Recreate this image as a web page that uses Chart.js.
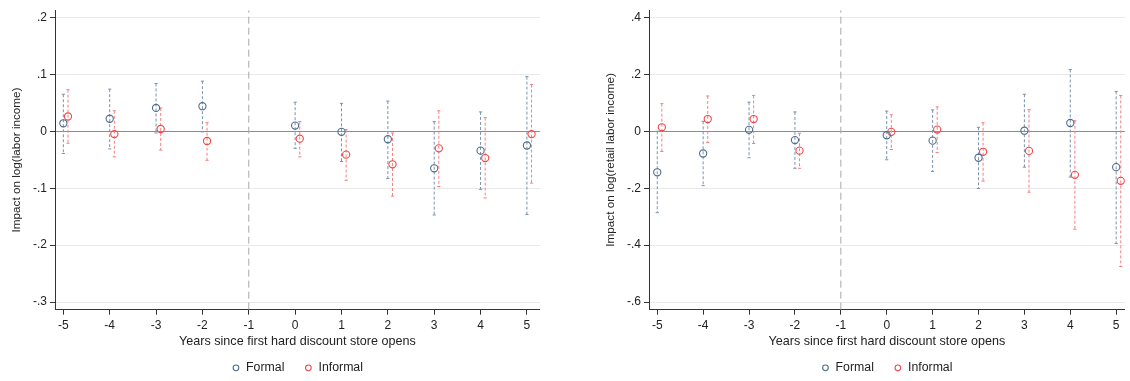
<!DOCTYPE html>
<html>
<head>
<meta charset="utf-8">
<script src="https://cdn.jsdelivr.net/npm/chart.js@4.4.1/dist/chart.umd.min.js"></script>
<style>
  body { margin: 0; background: #fff; }
  #wrap { position: relative; width: 1130px; height: 381px; background: #fff; }
  .panel { position: absolute; top: 0; height: 381px; }
</style>
</head>
<body>
<div id="wrap">
  <div class="panel" style="left:0;width:545px"><canvas id="labor"></canvas></div>
  <div class="panel" style="left:594px;width:536px"><canvas id="retail"></canvas></div>
</div>
<script>
// years relative to the first hard discount store opening
var years = [-5, -4, -3, -2, 0, 1, 2, 3, 4, 5];
var xTicks = [-5, -4, -3, -2, -1, 0, 1, 2, 3, 4, 5];

// impact on log(labor income)
var laborFormal     = [0.014, 0.022, 0.041, 0.044, 0.010, -0.001, -0.014, -0.065, -0.034, -0.025];
var laborFormalLo   = [-0.039, -0.031, -0.003, -0.001, -0.030, -0.053, -0.083, -0.147, -0.102, -0.146];
var laborFormalHi   = [0.065, 0.074, 0.084, 0.088, 0.051, 0.049, 0.053, 0.017, 0.034, 0.096];
var laborInformal   = [0.026, -0.005, 0.004, -0.017, -0.013, -0.041, -0.058, -0.030, -0.047, -0.005];
var laborInformalLo = [-0.021, -0.045, -0.033, -0.051, -0.045, -0.086, -0.114, -0.097, -0.117, -0.091];
var laborInformalHi = [0.073, 0.036, 0.041, 0.015, 0.017, 0.003, -0.003, 0.036, 0.024, 0.082];
var laborTicks      = [0.2, 0.1, 0, -0.1, -0.2, -0.3];
var laborTickLabels = ['.2', '.1', '0', '-.1', '-.2', '-.3'];

// impact on log(retail labor income)
var retailFormal     = [-0.144, -0.078, 0.005, -0.031, -0.014, -0.033, -0.093, 0.002, 0.029, -0.126];
var retailFormalLo   = [-0.286, -0.191, -0.093, -0.130, -0.100, -0.141, -0.201, -0.126, -0.161, -0.394];
var retailFormalHi   = [0.000, 0.035, 0.102, 0.068, 0.071, 0.075, 0.014, 0.130, 0.217, 0.140];
var retailInformal   = [0.014, 0.043, 0.043, -0.068, -0.002, 0.006, -0.072, -0.069, -0.153, -0.174];
var retailInformalLo = [-0.071, -0.040, -0.043, -0.130, -0.064, -0.075, -0.175, -0.214, -0.344, -0.475];
var retailInformalHi = [0.097, 0.124, 0.126, -0.007, 0.058, 0.086, 0.030, 0.076, 0.037, 0.126];
var retailTicks      = [0.4, 0.2, 0, -0.2, -0.4, -0.6];
var retailTickLabels = ['.4', '.2', '0', '-.2', '-.4', '-.6'];

var eventYear = -1;
var informalShift = 0.1;

var FONT = 'Liberation Sans, Arial, Helvetica, sans-serif';
var BLUE = '#4f6c8f', BLUE_CI = '#7d92ab';
var RED = '#f04848', RED_CI = '#f58080';

function pts(xs, ys, shift) {
  return xs.map(function(x, i) { return {x: x + shift, y: ys[i]}; });
}

// each interval is a two-point segment, broken by a null point
function ciPts(xs, lo, hi, shift) {
  var out = [];
  xs.forEach(function(x, i) {
    out.push({x: x + shift, y: hi[i]}, {x: x + shift, y: lo[i]}, {x: x + shift, y: null});
  });
  return out;
}

function ciSet(data, color) {
  return {
    type: 'line', label: 'ci', data: data, order: 2,
    borderColor: color, borderWidth: 1, borderDash: [3, 2], spanGaps: false,
    pointStyle: 'line', pointRadius: 1.6, pointBorderColor: color, pointBorderWidth: 1,
    pointHoverRadius: 0
  };
}

// centre the legend under the plot area, like the original graph
var legendUnderPlot = {
  id: 'legendUnderPlot',
  afterLayout: function(chart) {
    var lg = chart.legend, area = chart.chartArea;
    if (!lg) return;
    lg.left = area.left;
    lg.right = area.right;
    lg.width = area.right - area.left;
  }
};

function makeChart(id, p) {
  var ctx = document.getElementById(id);
  return new Chart(ctx, {
    type: 'scatter',
    plugins: [legendUnderPlot],
    data: {
      datasets: [
        {
          type: 'scatter', label: 'Formal', data: pts(years, p.formal, 0), order: 1,
          pointStyle: 'circle', pointRadius: 3.6, borderWidth: 1.1,
          borderColor: BLUE, backgroundColor: 'rgba(0,0,0,0)'
        },
        {
          type: 'scatter', label: 'Informal', data: pts(years, p.informal, informalShift), order: 1,
          pointStyle: 'circle', pointRadius: 3.6, borderWidth: 1.1,
          borderColor: RED, backgroundColor: 'rgba(0,0,0,0)'
        },
        ciSet(ciPts(years, p.formalLo, p.formalHi, 0), BLUE_CI),
        ciSet(ciPts(years, p.informalLo, p.informalHi, informalShift), RED_CI),
        {
          type: 'line', label: 'event', order: 3,
          data: [{x: eventYear, y: p.yMin}, {x: eventYear, y: p.yMax}],
          borderColor: '#a8a8a8', borderWidth: 1, borderDash: [7, 4], pointRadius: 0
        }
      ]
    },
    options: {
      responsive: true,
      maintainAspectRatio: false,
      animation: false,
      devicePixelRatio: 1,
      layout: { padding: { top: 5, right: p.padRight, left: 0, bottom: -3 } },
      plugins: {
        tooltip: { enabled: false },
        legend: {
          position: 'bottom',
          labels: {
            usePointStyle: true, boxWidth: 8, boxHeight: 4, padding: 20,
            color: '#222', font: { family: FONT, size: 12.3 },
            filter: function(item) { return item.text === 'Formal' || item.text === 'Informal'; }
          }
        }
      },
      scales: {
        x: {
          type: 'linear', min: p.xMin, max: p.xMax,
          afterBuildTicks: function(s) { s.ticks = xTicks.map(function(v) { return {value: v}; }); },
          afterFit: function(s) { s.height = 32; },
          ticks: { autoSkip: false, maxRotation: 0, padding: 4, color: '#222',
                   font: { family: FONT, size: 12 }, callback: function(v) { return String(v); } },
          grid: { color: 'rgba(0,0,0,0)', tickColor: '#333', tickLength: 5 },
          border: { color: '#333', width: 1 },
          title: { display: true, text: 'Years since first hard discount store opens', color: '#222',
                   font: { family: FONT, size: 12.6 }, padding: { top: 0, bottom: -7 } }
        },
        y: {
          type: 'linear', min: p.yMin, max: p.yMax,
          afterBuildTicks: function(s) { s.ticks = p.ticks.map(function(v) { return {value: v}; }); },
          afterFit: function(s) { s.width = 55; },
          ticks: { padding: 3, color: '#222', font: { family: FONT, size: 12 },
                   callback: function(v) { var i = p.ticks.indexOf(v); return i >= 0 ? p.tickLabels[i] : ''; } },
          grid: {
            color: function(c) { return c.tick && c.tick.value === 0 ? '#8c8c8c' : '#e9e9e9'; },
            tickColor: '#333', tickLength: 5
          },
          border: { color: '#333', width: 1 },
          title: { display: true, text: p.yTitle, color: '#222',
                   font: { family: FONT, size: 11.7 }, padding: { top: 10, bottom: 0 } }
        }
      }
    }
  });
}

makeChart('labor', {
  formal: laborFormal, formalLo: laborFormalLo, formalHi: laborFormalHi,
  informal: laborInformal, informalLo: laborInformalLo, informalHi: laborInformalHi,
  ticks: laborTicks, tickLabels: laborTickLabels,
  yMin: -0.3133, yMax: 0.2126, xMin: -5.18, xMax: 5.28, padRight: 4,
  yTitle: 'Impact on log(labor income)'
});

makeChart('retail', {
  formal: retailFormal, formalLo: retailFormalLo, formalHi: retailFormalHi,
  informal: retailInformal, informalLo: retailInformalLo, informalHi: retailInformalHi,
  ticks: retailTicks, tickLabels: retailTickLabels,
  yMin: -0.6266, yMax: 0.4252, xMin: -5.18, xMax: 5.19, padRight: 0,
  yTitle: 'Impact on log(retail labor income)'
});
</script>
</body>
</html>
